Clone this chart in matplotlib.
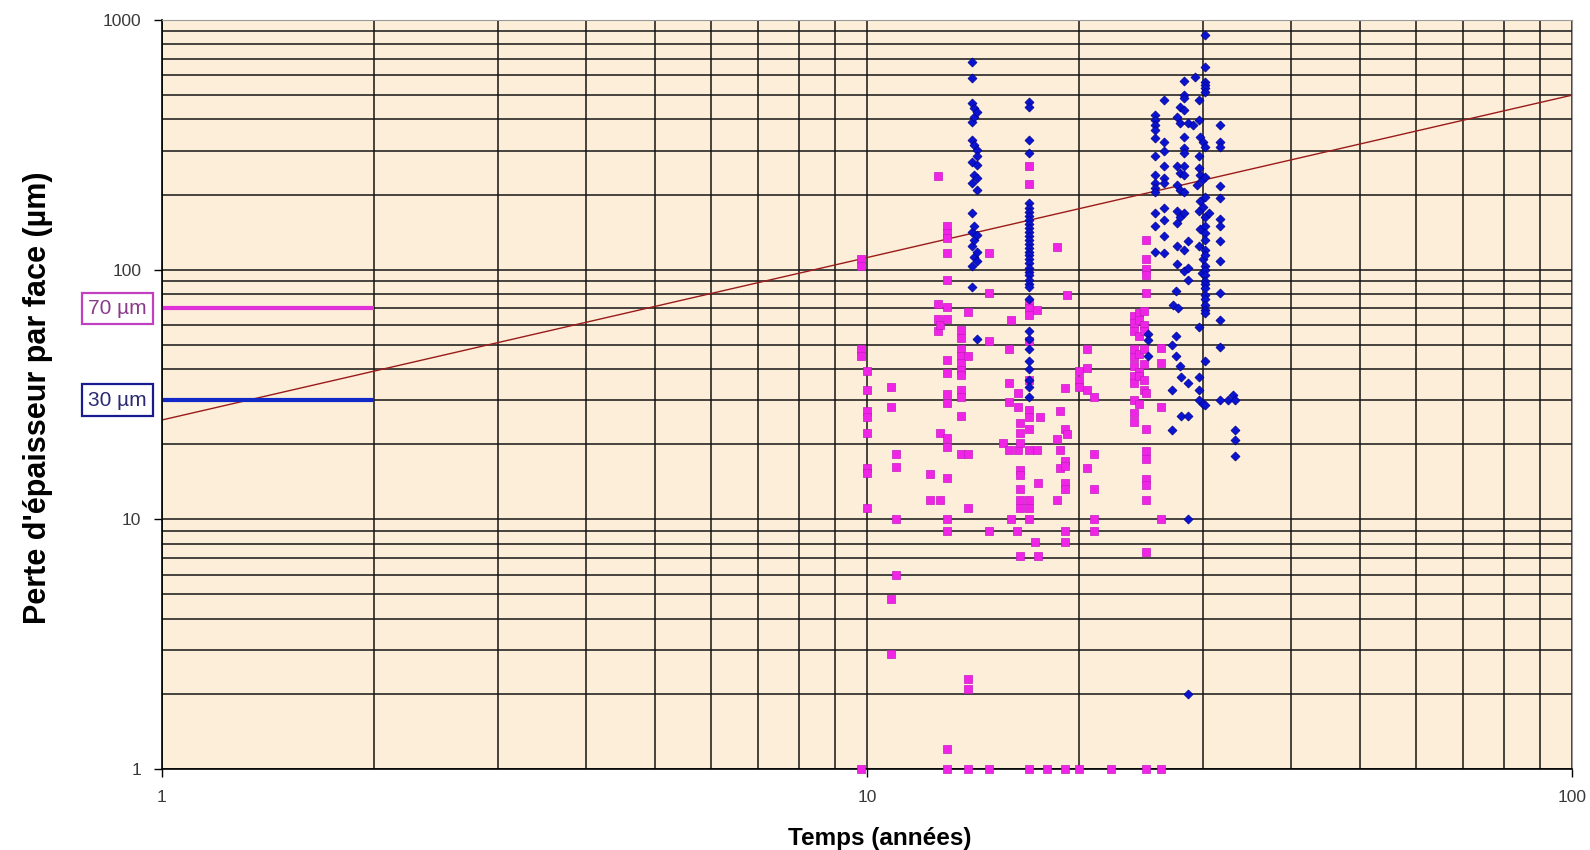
import matplotlib
matplotlib.use("Agg")
import matplotlib.pyplot as plt
import matplotlib.transforms as mtransforms
from matplotlib.ticker import LogLocator, NullFormatter

plt.rcParams['font.family'] = ['Liberation Sans', 'DejaVu Sans']

# series 1 (blue diamonds): time column -> list of thickness losses
blue_t = [14.1, 14.2, 14.3, 17.0,
          25.0, 25.6, 26.4, 27.1, 27.2, 27.4, 27.5, 27.6, 27.8, 27.9, 28.2, 28.5,
          29.0, 29.2, 29.4, 29.6, 29.7, 29.9, 30.0, 30.2, 30.6, 31.7, 32.5, 33.0, 33.3]
blue_p = [
    [681, 585, 464, 392, 331, 271, 223, 169, 142, 124, 103, 85],
    [445, 410, 316, 240, 149, 132, 112],
    [430, 302, 284, 263, 233, 209, 138, 118, 108, 53],
    [471, 450, 331, 293, 185, 177, 170, 164, 158, 152, 147, 142, 137, 132, 127, 122,
     118, 114, 110, 106, 102, 98, 95, 91, 88, 85, 76, 57, 53, 48, 43, 40, 36, 34, 31],
    [55, 52.5, 45],
    [417, 398, 380, 363, 337, 284, 240, 223, 213, 205, 169, 149, 118],
    [479, 326, 298, 259, 233, 223, 177, 158, 136, 117],
    [50, 33, 22.8],
    [72],
    [82, 54, 45],
    [410, 259, 219, 171, 154, 124, 105],
    [70],
    [450, 387, 244, 209, 163, 41],
    [37, 26],
    [572, 501, 488, 437, 341, 307, 293, 259, 240, 205, 169, 120, 99],
    [387, 130, 102, 91, 35, 26, 10, 2.0],
    [380],
    [591],
    [219],
    [398, 479, 284, 255, 171, 124, 59, 37, 33, 30],
    [341, 240, 188, 145],
    [229, 97],
    [326, 179, 110, 29],
    [871, 650, 567, 550, 533, 516, 311, 236, 196, 163, 150, 140, 132, 120, 115, 103,
     100, 95.5, 90, 88, 84.5, 79.4, 76, 72, 69, 67, 43, 28.8],
    [169],
    [380, 326, 311, 216, 193, 160, 149, 130, 108, 81, 63, 49, 30],
    [30],
    [31.6],
    [30, 22.8, 20.7, 18.0],
]

# series 2 (magenta squares)
mag_t = [9.8, 10.0, 10.8, 11.0, 12.3, 12.6, 12.7, 13.0, 13.6, 13.9, 14.9, 15.6, 15.9,
         16.0, 16.3, 16.4, 16.5, 17.0, 17.3, 17.4, 17.5, 17.6, 18.0, 18.6, 18.8, 19.1,
         19.2, 20.0, 20.5, 21.0, 22.2, 23.9, 24.3, 24.7, 24.9, 26.1]
mag_p = [
    [110, 103, 48, 45, 1],
    [39.4, 33, 27.2, 25.6, 22.2, 16.1, 15.3, 11.1],
    [34, 28.2, 4.8, 2.9],
    [18.2, 16.2, 10, 6.0],
    [15.2, 12.0],
    [238, 73, 63.6, 56.6],
    [60, 22.2, 12.0],
    [149, 140, 134, 117, 91, 71, 63.6, 43.3, 38.4, 31.7, 29.2, 21.2, 19.4, 14.6, 10, 9.0, 1.2, 1],
    [57.4, 53.3, 48, 45, 42.2, 39.8, 38, 33, 31, 26, 18.3],
    [67.5, 45, 18.3, 11.1, 2.3, 2.1, 1],
    [117, 81, 51.6, 9.0, 1],
    [20.2],
    [48, 35, 29.6, 19],
    [63, 10],
    [9.0],
    [32, 28.2, 19],
    [24.4, 22.2, 20.2, 15.8, 15.1, 13.2, 12, 11.1, 7.1],
    [260, 220, 73, 70, 66, 51.6, 36.3, 27.5, 25.6, 23, 19, 12, 11.1, 10, 1],
    [8.1],
    [69, 19],
    [14.0, 7.1],
    [25.8],
    [1],
    [123, 20.9, 12.0],
    [27.2, 19, 16.1],
    [33.5, 22.9, 17.1, 16.3, 14.0, 13.2, 9.0, 8.1, 1],
    [79.4, 22],
    [39.4, 36.3, 34, 1],
    [48, 40.4, 33, 16.1],
    [31, 18.2, 13.2, 10, 9.0],
    [1],
    [65, 61, 56.6, 48, 44.5, 41, 37.4, 35, 30, 26.6, 24.6],
    [67, 63, 54, 46, 39, 37.4, 29],
    [68, 60, 57, 48, 42, 36, 33],
    [131, 110, 101, 95.5, 80.8, 32, 22.9, 18.8, 17.4, 14.5, 13.7, 12.0, 7.4, 1],
    [48.5, 42.2, 28.2, 10, 1],
]

trend_t = [1, 100]
trend_p = [25, 500]

level_vals = [70, 30]
level_labels = ['70 µm', '30 µm']
level_end = 2


def expand(ts, ps):
    xs, ys = [], []
    for t, col in zip(ts, ps):
        xs += [t] * len(col)
        ys += col
    return xs, ys


bx, by = expand(blue_t, blue_p)
mx, my = expand(mag_t, mag_p)

W, H = 1590, 850
fig = plt.figure(figsize=(W / 100, H / 100), dpi=100)
ax = fig.add_axes([162 / W, 1 - 769 / H, 1410 / W, 749 / H])
ax.set_xscale('log')
ax.set_yscale('log')
ax.set_xlim(1, 100)
ax.set_ylim(1, 1000)
ax.set_facecolor('#FCEED8')

ax.set_xticks([1, 10, 100])
ax.set_xticklabels(['1', '10', '100'])
ax.set_yticks([1, 10, 100, 1000])
ax.set_yticklabels(['1', '10', '100', '1000'])
ax.xaxis.set_minor_locator(LogLocator(base=10, subs=range(2, 10)))
ax.yaxis.set_minor_locator(LogLocator(base=10, subs=range(2, 10)))
ax.xaxis.set_minor_formatter(NullFormatter())
ax.yaxis.set_minor_formatter(NullFormatter())
ax.grid(which='both', color='#151515', lw=1.1)
ax.set_axisbelow(True)
ax.tick_params(which='major', length=6, width=1, direction='out',
               labelsize=12.5, labelcolor='#3a3a3a', pad=9)
ax.tick_params(which='minor', length=0)
for s in ['left', 'bottom']:
    ax.spines[s].set_color('black')
    ax.spines[s].set_linewidth(1.2)
for s in ['top', 'right']:
    ax.spines[s].set_color('#999999')
    ax.spines[s].set_linewidth(0.8)

ax.plot(trend_t, trend_p, color='#9B1B1B', lw=1.0, zorder=2)

level_colors = ['#E030D8', '#1028C8']
box_edges = ['#C040C0', '#1A1A90']
text_colors = ['#8A3A8A', '#2A2A70']
trans = mtransforms.blended_transform_factory(ax.transAxes, ax.transData)
for v, lab, c, e, tc in zip(level_vals, level_labels, level_colors, box_edges, text_colors):
    ax.plot([1, level_end], [v, v], color=c, lw=3, solid_capstyle='butt', zorder=2)
    ax.text(-0.0316, v, lab, transform=trans, ha='center', va='center',
            fontsize=15, color=tc, clip_on=False,
            bbox=dict(boxstyle='square,pad=0.3', fc='white', ec=e, lw=1.6))

ax.scatter(mx, my, marker='s', s=33, c='#F024E6', edgecolors='#C41CC0',
           linewidths=0.5, clip_on=False, zorder=3)
ax.scatter(bx, by, marker='D', s=21, c='#0A14D0', edgecolors='#000090',
           linewidths=0.5, clip_on=False, zorder=4)

fig.text(38 / W, 1 - 398 / H, "Perte d'épaisseur par face (µm)", rotation=90,
         ha='center', va='center', fontsize=22, fontweight='bold')
fig.text(880 / W, 1 - 838 / H, "Temps (années)", ha='center', va='center',
         fontsize=17.5, fontweight='bold')

fig.savefig('out.png', dpi=100, facecolor='white')
